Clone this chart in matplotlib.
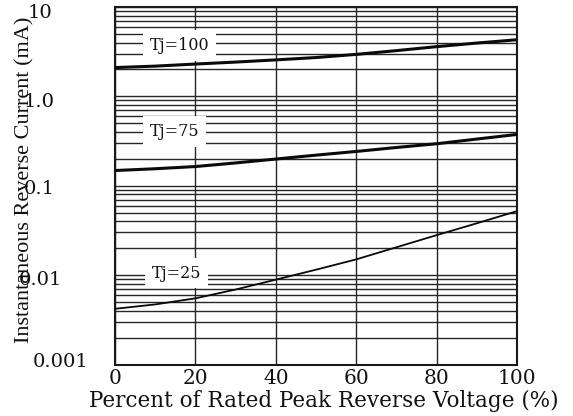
import matplotlib
matplotlib.use("Agg")
import matplotlib.pyplot as plt
import matplotlib.transforms as mtransforms
from matplotlib.ticker import NullFormatter

# Reverse leakage current vs. percent of rated peak reverse voltage
voltage_pct = [0, 10, 20, 30, 40, 50, 60, 70, 80, 90, 100]
current_tj100 = [2.10, 2.18, 2.30, 2.42, 2.56, 2.72, 2.95, 3.25, 3.60, 3.95, 4.30]
current_tj75 = [0.148, 0.155, 0.164, 0.180, 0.199, 0.220, 0.242, 0.268, 0.295, 0.333, 0.375]
current_tj25 = [0.0042, 0.0047, 0.0055, 0.0069, 0.0089, 0.0115, 0.0150, 0.0205, 0.0280, 0.0380, 0.0520]

x_ticks = [0, 20, 40, 60, 80, 100]
y_ticks = [10, 1.0, 0.1, 0.01, 0.001]
y_tick_labels = ["10", "1.0", "0.1", "0.01", "0.001"]

curve_labels = ["Tj=100", "Tj=75", "Tj=25"]
label_x = [8.7, 8.7, 9.2]
label_y = [3.71, 0.405, 0.0105]

WIDE = ["DejaVu Serif"]
NARROW = ["Liberation Serif", "DejaVu Serif"]
plt.rcParams["font.family"] = WIDE

fig = plt.figure(figsize=(5.73, 4.16), dpi=100)
ax = fig.add_axes([115 / 573, 1 - 364.5 / 416, 402 / 573, 357.5 / 416])

ax.set_yscale("log")
ax.set_xlim(0, 100)
ax.set_ylim(0.001, 10)

grid_kw = dict(color="#262626", linewidth=1.0)
ax.grid(True, which="major", axis="both", **grid_kw)
ax.grid(True, which="minor", axis="y", **grid_kw)
ax.set_axisbelow(True)
for s in ax.spines.values():
    s.set_linewidth(1.5)
    s.set_color("#1a1a1a")

ax.tick_params(which="both", length=0)
ax.set_xticks(x_ticks)
ax.set_xticklabels([str(v) for v in x_ticks], fontsize=14.5, color="#111111")
ax.tick_params(axis="x", pad=3)
ax.set_yticks(y_ticks)
ax.set_yticklabels([])
ax.yaxis.set_minor_formatter(NullFormatter())

# y tick labels placed by hand (right edge in pixels, vertical nudge in dots)
right_px = [52, 55, 55, 62, 88]
dy_px = [-6, -6, -3, -4.5, 2.5]
tr = mtransforms.blended_transform_factory(fig.transFigure, ax.transData)
for v, lab, rx, dy in zip(y_ticks, y_tick_labels, right_px, dy_px):
    off = mtransforms.offset_copy(tr, fig=fig, x=0, y=dy, units="dots")
    ax.text(rx / 573, v, lab, transform=off, ha="right", va="center",
            fontsize=14, color="#111111", clip_on=False)

ax.plot(voltage_pct, current_tj100, color="#0a0a0a", linewidth=2.2, zorder=5)
ax.plot(voltage_pct, current_tj75, color="#0a0a0a", linewidth=2.2, zorder=5)
ax.plot(voltage_pct, current_tj25, color="#0a0a0a", linewidth=1.3, zorder=5)

for txt, lx, ly in zip(curve_labels, label_x, label_y):
    ax.text(lx, ly, txt, fontsize=11.5, color="#111111", ha="left", va="center",
            zorder=4,
            bbox=dict(boxstyle="square,pad=0.42", facecolor="white",
                      edgecolor="none"))

fig.text(323.5 / 573, 1 - 401 / 416, "Percent of Rated Peak Reverse Voltage (%)",
         ha="center", va="center", fontsize=15.5, color="#111111")
fig.text(25 / 573, 1 - 180 / 416, "Instantaneous Reverse Current (mA)",
         ha="center", va="center", rotation=90, fontsize=16, color="#111111",
         family=NARROW)

fig.savefig("out.png", dpi=100)
